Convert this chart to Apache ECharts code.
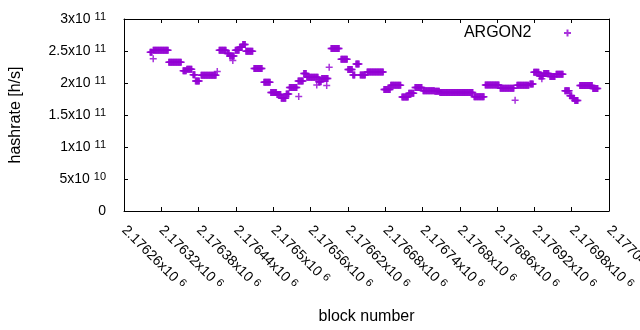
<!DOCTYPE html>
<html>
<head>
<meta charset="utf-8">
<script src="https://cdn.jsdelivr.net/npm/echarts@6/dist/echarts.min.js"></script>
<style>
  html, body { margin: 0; padding: 0; background: #fff; }
  #chart { width: 640px; height: 330px; }
</style>
</head>
<body>
<div id="chart"></div>
<script>
// hashrate estimate per block, read off the plot as runs of equal value
const runStart = [
  2176302, 2176307, 2176332, 2176355, 2176361, 2176371, 2176375, 2176384, 2176413, 2176426,
  2176430, 2176439, 2176446, 2176451, 2176456, 2176469, 2176485, 2176496, 2176506, 2176513,
  2176521, 2176526, 2176540, 2176549, 2176554, 2176573, 2176578, 2176593, 2176609, 2176620,
  2176628, 2176633, 2176640, 2176651, 2176678, 2176689, 2176707, 2176718, 2176728, 2176741,
  2176760, 2176768, 2176823, 2176841, 2176865, 2176892, 2176913, 2176919, 2176928, 2176935,
  2176945, 2176955, 2176969, 2176977, 2176981, 2176985, 2176993, 2177014
]
const runEnd = [
  2176305, 2176331, 2176352, 2176360, 2176369, 2176374, 2176381, 2176408, 2176424, 2176429,
  2176437, 2176445, 2176450, 2176455, 2176467, 2176482, 2176495, 2176505, 2176512, 2176520,
  2176525, 2176538, 2176548, 2176553, 2176572, 2176577, 2176588, 2176606, 2176619, 2176627,
  2176631, 2176638, 2176648, 2176677, 2176688, 2176705, 2176717, 2176726, 2176739, 2176759,
  2176767, 2176821, 2176839, 2176863, 2176887, 2176911, 2176918, 2176927, 2176934, 2176943,
  2176953, 2176966, 2176976, 2176980, 2176984, 2176990, 2177013, 2177022
]
const runHashrate = [
  2.48e11, 2.51e11, 2.325e11, 2.19e11, 2.215e11, 2.13e11, 2.03e11, 2.12e11, 2.51e11, 2.46e11,
  2.42e11, 2.51e11, 2.56e11, 2.60e11, 2.495e11, 2.227e11, 2.01e11, 1.85e11, 1.82e11, 1.76e11,
  1.83e11, 1.93e11, 2.03e11, 2.15e11, 2.09e11, 2.02e11, 2.07e11, 2.54e11, 2.37e11, 2.21e11,
  2.125e11, 2.297e11, 2.125e11, 2.17e11, 1.90e11, 1.964e11, 1.78e11, 1.84e11, 1.93e11, 1.88e11,
  1.87e11, 1.85e11, 1.784e11, 1.97e11, 1.917e11, 1.964e11, 1.984e11, 2.167e11, 2.11e11, 2.148e11,
  2.10e11, 2.136e11, 1.88e11, 1.80e11, 1.76e11, 1.727e11, 1.96e11, 1.914e11
]
// single stray blocks
const strayBlock = [2176307, 2176410, 2176435, 2176541, 2176570, 2176586, 2176590, 2176889, 2176932]
const strayHashrate = [2.38e11, 2.18e11, 2.35e11, 1.79e11, 1.97e11, 1.96e11, 2.245e11, 1.73e11, 2.067e11]

const X_MIN = 2176260
const X_MAX = 2177040
const X_STEP = 60
const Y_MAX = 3e11
const Y_STEP = 5e10

const FONT = '"Liberation Sans", Arial, sans-serif'
const PURPLE = '#9400D3'
const PLUS = 'path://M0,5H10M5,0V10'

const points = []
runStart.forEach((s, i) => {
  for (let b = s; b <= runEnd[i]; b++) points.push([b, runHashrate[i]])
})
strayBlock.forEach((b, i) => points.push([b, strayHashrate[i]]))

const sci = (v, digits) => {
  if (v === 0) return '{m|0}'
  const e = Math.floor(Math.log10(v) + 1e-9)
  const m = +(v / Math.pow(10, e)).toFixed(digits)
  return `{m|${m}x10}{e|${e}}`
}

const richLabel = {
  m: { fontSize: 14, fontFamily: FONT, color: '#000', lineHeight: 16 },
  e: { fontSize: 11, fontFamily: FONT, color: '#000', verticalAlign: 'top', lineHeight: 11, padding: [0, 0, 0, 4] }
}

const tickStyle = { show: true, inside: true, length: 4, lineStyle: { color: '#000', width: 1 } }
const lineStyle = { show: true, onZero: false, lineStyle: { color: '#000', width: 1 } }

const chart = echarts.init(document.getElementById('chart'), null, { renderer: 'canvas' })
chart.setOption({
  animation: false,
  grid: { left: 124, right: 31, top: 19, bottom: 119, outerBoundsMode: 'none', containLabel: false },
  legend: {
    data: ['ARGON2'],
    right: 63,
    top: 20,
    align: 'right',
    itemWidth: 62,
    itemHeight: 7,
    icon: PLUS,
    symbolKeepAspect: true,
    textStyle: { fontSize: 16, fontFamily: FONT, color: '#000' }
  },
  xAxis: [{
    type: 'value',
    min: X_MIN,
    max: X_MAX,
    interval: X_STEP,
    name: 'block number',
    nameLocation: 'middle',
    nameGap: 98,
    nameTextStyle: { fontSize: 16, fontFamily: FONT, color: '#000' },
    axisLine: lineStyle,
    axisTick: tickStyle,
    splitLine: { show: false },
    axisLabel: {
      rotate: -45,
      margin: 17,
      formatter: v => sci(v, 5),
      rich: richLabel
    }
  }, {
    type: 'value',
    position: 'top',
    min: X_MIN,
    max: X_MAX,
    interval: X_STEP,
    axisLine: lineStyle,
    axisTick: tickStyle,
    splitLine: { show: false },
    axisLabel: { show: false }
  }],
  yAxis: [{
    type: 'value',
    min: 0,
    max: Y_MAX,
    interval: Y_STEP,
    name: 'hashrate [h/s]',
    nameLocation: 'middle',
    nameRotate: 90,
    nameGap: 100,
    nameTextStyle: { fontSize: 16, fontFamily: FONT, color: '#000' },
    axisLine: lineStyle,
    axisTick: tickStyle,
    splitLine: { show: false },
    axisLabel: {
      margin: 18,
      formatter: v => sci(v, 4),
      rich: richLabel
    }
  }, {
    type: 'value',
    position: 'right',
    min: 0,
    max: Y_MAX,
    interval: Y_STEP,
    axisLine: lineStyle,
    axisTick: tickStyle,
    splitLine: { show: false },
    axisLabel: { show: false }
  }],
  series: [{
    name: 'ARGON2',
    type: 'scatter',
    symbol: PLUS,
    symbolSize: 7,
    itemStyle: { color: PURPLE, borderColor: PURPLE, borderWidth: 1.5 },
    emphasis: { disabled: true },
    data: points
  }]
})
</script>
</body>
</html>
